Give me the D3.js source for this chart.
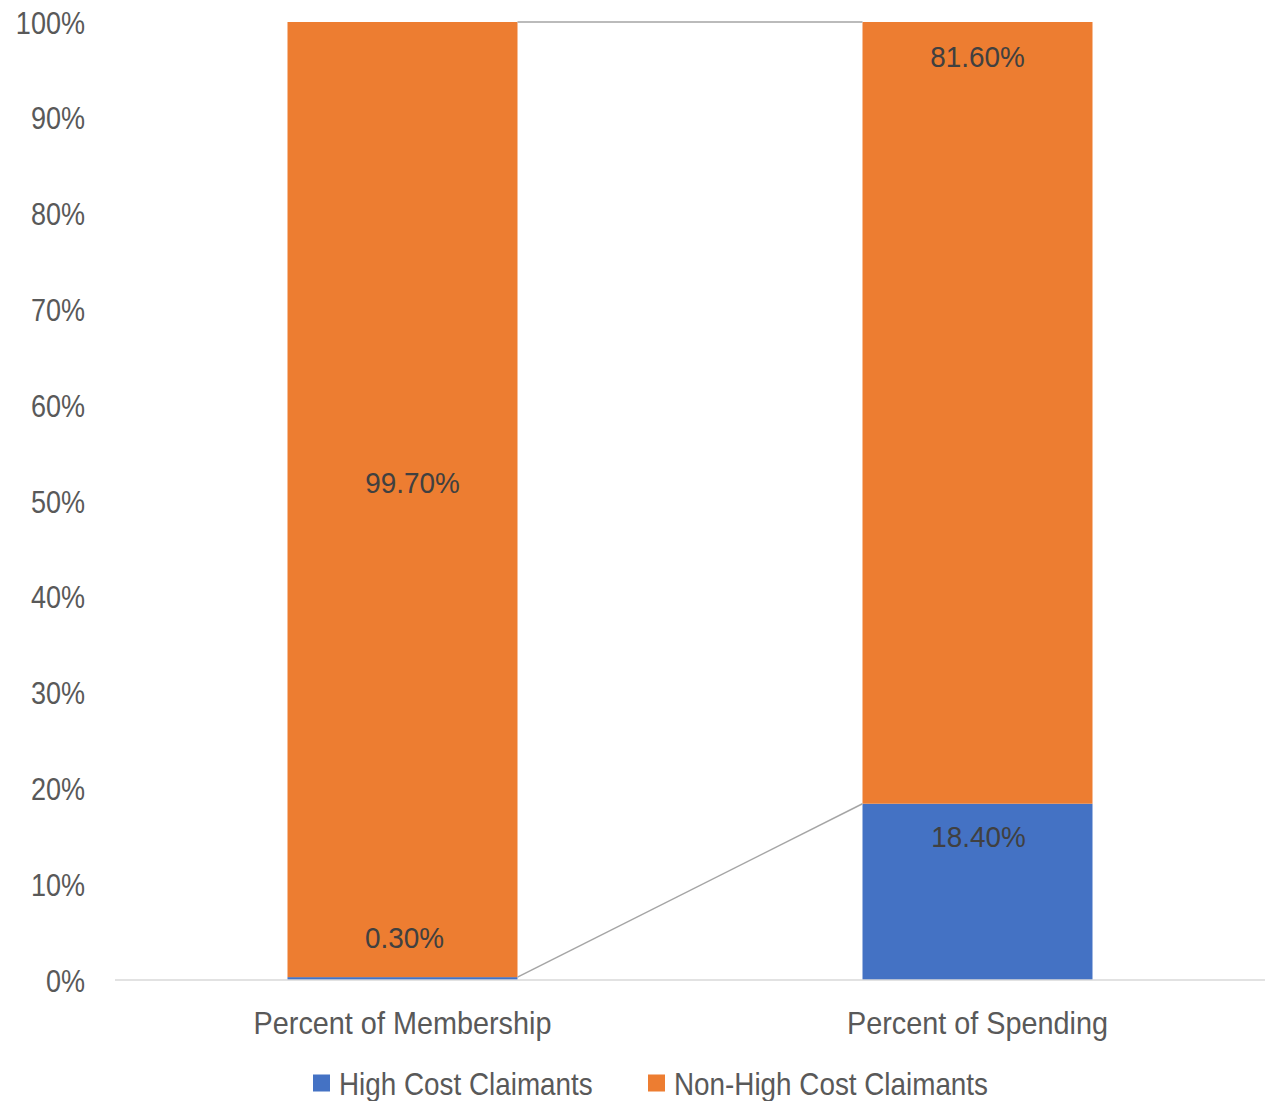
<!DOCTYPE html>
<html><head><meta charset="utf-8">
<script src="https://cdnjs.cloudflare.com/ajax/libs/d3/7.8.5/d3.min.js"></script>
<style>
body{margin:0;background:#fff;}
text{font-family:"Liberation Sans",Arial,sans-serif;}
</style></head><body>
<svg id="chart" width="1269" height="1101"></svg>
<script>
const categories = ["Percent of Membership", "Percent of Spending"];
const seriesNames = ["High Cost Claimants", "Non-High Cost Claimants"];
const highCost = [0.3, 18.4];
const nonHighCost = [99.7, 81.6];
const labelsHigh = ["0.30%", "18.40%"];
const labelsNon = ["99.70%", "81.60%"];
const yTicks = [0,10,20,30,40,50,60,70,80,90,100];
const colors = ["#4472C4", "#ED7D31"];

const svg = d3.select("#chart");
const x = d3.scaleBand().domain(categories).range([115,1265]).paddingInner(0.6).paddingOuter(0.3);
const y = d3.scaleLinear().domain([0,100]).range([980,22]);

// narrow-font emulation: place text with a horizontal squeeze
function narrow(sel, xf, yf, k){
  return sel.attr("x",0).attr("y",0).attr("dy","0.36em")
    .attr("transform",(d,i)=>`translate(${xf(d,i)},${yf(d,i)}) scale(${k},1)`);
}

// y tick labels
narrow(svg.append("g").selectAll("text").data(yTicks).join("text"), d=>85, d=>y(d), 0.845)
  .attr("text-anchor","end").attr("fill","#595959").attr("font-size",32)
  .text(d=>d+"%");

const data = categories.map((c,i)=>({c, h:highCost[i], n:nonHighCost[i]}));

// bars
const g = svg.append("g");
g.selectAll("rect.h").data(data).join("rect")
  .attr("x",d=>x(d.c)).attr("width",x.bandwidth())
  .attr("y",d=>y(d.h)).attr("height",d=>y(0)-y(d.h)).attr("fill",colors[0]);
g.selectAll("rect.n").data(data).join("rect")
  .attr("x",d=>x(d.c)).attr("width",x.bandwidth())
  .attr("y",d=>y(d.h+d.n)).attr("height",d=>y(d.h)-y(d.h+d.n)).attr("fill",colors[1]);

// axis baseline
svg.append("line").attr("x1",115).attr("x2",1265).attr("y1",y(0)).attr("y2",y(0))
  .attr("stroke","#d9d9d9").attr("stroke-width",1.5);

// series lines
const x0 = x(categories[0])+x.bandwidth(), x1 = x(categories[1]);
[[highCost[0],highCost[1]],[highCost[0]+nonHighCost[0],highCost[1]+nonHighCost[1]]].forEach(p=>{
  svg.append("line").attr("x1",x0).attr("x2",x1).attr("y1",y(p[0])).attr("y2",y(p[1]))
    .attr("stroke","#a5a5a5").attr("stroke-width",1.5);
});

// data labels
const lab = svg.append("g").attr("fill","#404040").attr("font-size",30).attr("text-anchor","middle");
const cx = d=>x(d)+x.bandwidth()/2;
const labPos = [
  [labelsHigh[0], cx(categories[0])+2, y(highCost[0])-40],
  [labelsHigh[1], cx(categories[1])+1, y(highCost[1])+32],
  [labelsNon[0], cx(categories[0])+10, (y(highCost[0])+y(100))/2-17],
  [labelsNon[1], cx(categories[1]), y(100)+34]
];
narrow(lab.selectAll("text").data(labPos).join("text"), d=>d[1], d=>d[2], 0.93).text(d=>d[0]);

// category labels
narrow(svg.append("g").selectAll("text").data(categories).join("text"), d=>cx(d), d=>1023, 0.93)
  .attr("text-anchor","middle").attr("fill","#595959").attr("font-size",31).text(d=>d);

// legend
const legX = [313, 648];
const leg = svg.append("g").selectAll("g").data(seriesNames).join("g")
  .attr("transform",(d,i)=>`translate(${legX[i]},1082)`);
leg.append("rect").attr("x",0).attr("y",-7.5).attr("width",17).attr("height",17).attr("fill",(d,i)=>colors[i]);
narrow(leg.append("text"), d=>26, d=>1, 0.87).attr("fill","#595959").attr("font-size",32).text(d=>d);
</script></body></html>
